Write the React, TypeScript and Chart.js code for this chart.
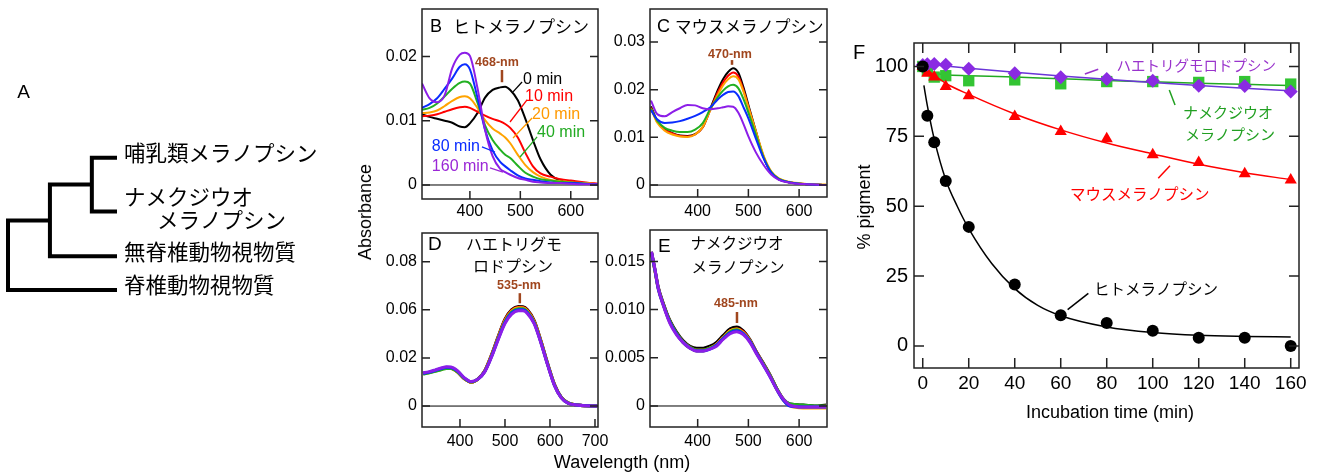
import React, { useEffect, useRef } from "react";
import { Chart, registerables } from "chart.js";

Chart.register(...registerables);

const LAT_FAMILY = "'Liberation Sans', Arial, sans-serif";
const LAT = (px: number, bold = false) => `${bold ? "bold " : ""}${px}px ${LAT_FAMILY}`;
const JP = (px: number) => `${px}px 'Noto Sans CJK JP', 'Noto Sans', sans-serif`;

// ---------------- Panel A : cladogram ----------------
const TREE_LEAF_LABELS: string[][] = [["哺乳類メラノプシン"], ["ナメクジウオ", "メラノプシン"], ["無脊椎動物視物質"], ["脊椎動物視物質"]];
const TREE_LEAF_ROWS = [0, 1.2, 2.2, 2.95];
const TREE_LEAF_DEPTH = 2.6;
// internal nodes: child A, child B, node depth
const TREE_NODES: [string, string, number][] = [["L0", "L1", 2], ["N0", "L2", 1], ["N1", "L3", 0]];

// ---------------- Spectra ----------------
const TIME_LABELS = ["0 min", "10 min", "20 min", "40 min", "80 min", "160 min"];
const SERIES_COLORS = ["#000000", "#ff0000", "#ffa300", "#22b022", "#0a2cff", "#8c1ee8"];
const LABEL_COLORS = ["#000000", "#ff0000", "#ff9900", "#22aa22", "#0a2cff", "#9a27d6"];
const BROWN = "#a0461e";

// B: human melanopsin
const B_NM = [305, 320, 335, 350, 365, 380, 390, 400, 415, 430, 445, 460, 470, 480, 495, 510, 525, 540, 560, 580, 600, 630, 655];
const B_T0 = [0.0110, 0.0106, 0.0103, 0.0100, 0.0097, 0.0091, 0.0090, 0.0096, 0.0112, 0.0136, 0.0148, 0.0152, 0.0153, 0.0148, 0.0132, 0.0103, 0.0070, 0.0040, 0.0016, 0.0007, 0.0004, 0.0002, 0.0001];
const B_T10 = [0.0107, 0.0108, 0.0110, 0.0114, 0.0118, 0.0121, 0.0122, 0.0120, 0.0114, 0.0108, 0.0103, 0.0099, 0.0095, 0.0089, 0.0074, 0.0050, 0.0029, 0.0018, 0.0013, 0.0009, 0.0007, 0.0004, 0.0002];
const B_T20 = [0.0112, 0.0113, 0.0116, 0.0123, 0.0131, 0.0137, 0.0138, 0.0135, 0.0120, 0.0101, 0.0088, 0.0080, 0.0074, 0.0065, 0.0047, 0.0031, 0.0020, 0.0013, 0.0008, 0.0006, 0.0004, 0.0003, 0.0001];
const B_T40 = [0.0117, 0.0120, 0.0127, 0.0138, 0.0150, 0.0159, 0.0161, 0.0158, 0.0128, 0.0093, 0.0070, 0.0055, 0.0047, 0.0042, 0.0030, 0.0019, 0.0013, 0.0009, 0.0007, 0.0005, 0.0004, 0.0002, 0.0001];
const B_T80 = [0.0120, 0.0126, 0.0135, 0.0150, 0.0166, 0.0184, 0.0188, 0.0180, 0.0136, 0.0086, 0.0054, 0.0036, 0.0029, 0.0023, 0.0015, 0.0010, 0.0008, 0.0006, 0.0004, 0.0003, 0.0003, 0.0002, 0.0001];
const B_T160 = [0.0158, 0.0135, 0.0129, 0.0140, 0.0182, 0.0203, 0.0206, 0.0201, 0.0151, 0.0086, 0.0045, 0.0025, 0.0020, 0.0016, 0.0011, 0.0008, 0.0005, 0.0004, 0.0003, 0.0003, 0.0002, 0.0001, 0.0001];

// C: mouse melanopsin
const C_NM = [308, 320, 335, 350, 365, 380, 395, 410, 425, 440, 450, 460, 470, 480, 490, 500, 515, 530, 545, 560, 580, 610, 653];
const C_T0 = [0.0165, 0.0135, 0.0117, 0.0109, 0.0104, 0.0103, 0.0107, 0.0121, 0.0160, 0.0200, 0.0222, 0.0237, 0.0245, 0.0236, 0.0206, 0.0168, 0.0112, 0.0059, 0.0026, 0.0012, 0.0006, 0.0002, 0.0000];
const C_T10 = [0.0162, 0.0133, 0.0116, 0.0108, 0.0103, 0.0102, 0.0106, 0.0121, 0.0158, 0.0195, 0.0215, 0.0229, 0.0236, 0.0228, 0.0200, 0.0164, 0.0110, 0.0059, 0.0027, 0.0013, 0.0006, 0.0002, 0.0000];
const C_T20 = [0.0160, 0.0131, 0.0114, 0.0106, 0.0102, 0.0101, 0.0106, 0.0122, 0.0157, 0.0190, 0.0209, 0.0222, 0.0228, 0.0222, 0.0197, 0.0163, 0.0112, 0.0062, 0.0029, 0.0014, 0.0007, 0.0003, 0.0001];
const C_T40 = [0.0160, 0.0135, 0.0120, 0.0114, 0.0111, 0.0111, 0.0116, 0.0130, 0.0160, 0.0185, 0.0198, 0.0207, 0.0210, 0.0203, 0.0181, 0.0152, 0.0105, 0.0058, 0.0027, 0.0013, 0.0006, 0.0002, 0.0000];
const C_T80 = [0.0157, 0.0138, 0.0130, 0.0131, 0.0134, 0.0139, 0.0145, 0.0153, 0.0163, 0.0180, 0.0189, 0.0195, 0.0196, 0.0187, 0.0164, 0.0140, 0.0097, 0.0056, 0.0026, 0.0012, 0.0006, 0.0002, 0.0000];
const C_T160 = [0.0177, 0.0149, 0.0144, 0.0153, 0.0161, 0.0168, 0.0167, 0.0161, 0.0159, 0.0161, 0.0163, 0.0165, 0.0164, 0.0152, 0.0129, 0.0102, 0.0068, 0.0042, 0.0022, 0.0011, 0.0005, 0.0002, 0.0000];

// D: jumping spider rhodopsin (values in the drawn tick units)
const D_NM = [318, 330, 345, 360, 370, 380, 395, 410, 425, 440, 455, 470, 485, 500, 515, 530, 540, 550, 565, 580, 595, 610, 625, 640, 660, 680, 705];
const D_T0 = [0.0136, 0.0140, 0.0147, 0.0155, 0.0158, 0.0157, 0.0141, 0.0113, 0.0099, 0.0113, 0.0147, 0.0213, 0.0290, 0.0361, 0.0401, 0.0414, 0.0413, 0.0400, 0.0355, 0.0271, 0.0176, 0.0090, 0.0037, 0.0013, 0.0004, 0.0001, 0.0000];
const D_T10 = [0.0135, 0.0139, 0.0146, 0.0154, 0.0158, 0.0157, 0.0141, 0.0113, 0.0099, 0.0112, 0.0146, 0.0211, 0.0287, 0.0358, 0.0398, 0.0411, 0.0410, 0.0397, 0.0352, 0.0269, 0.0174, 0.0089, 0.0036, 0.0013, 0.0004, 0.0001, 0.0000];
const D_T20 = [0.0134, 0.0138, 0.0145, 0.0153, 0.0157, 0.0156, 0.0140, 0.0113, 0.0099, 0.0112, 0.0145, 0.0209, 0.0285, 0.0355, 0.0395, 0.0408, 0.0407, 0.0394, 0.0350, 0.0267, 0.0173, 0.0088, 0.0036, 0.0013, 0.0004, 0.0001, 0.0000];
const D_T40 = [0.0133, 0.0137, 0.0144, 0.0152, 0.0156, 0.0156, 0.0141, 0.0114, 0.0100, 0.0112, 0.0144, 0.0207, 0.0282, 0.0351, 0.0391, 0.0404, 0.0404, 0.0391, 0.0347, 0.0265, 0.0172, 0.0087, 0.0035, 0.0013, 0.0004, 0.0001, 0.0000];
const D_T80 = [0.0136, 0.0140, 0.0148, 0.0157, 0.0161, 0.0160, 0.0144, 0.0116, 0.0101, 0.0112, 0.0143, 0.0205, 0.0279, 0.0347, 0.0387, 0.0400, 0.0400, 0.0388, 0.0344, 0.0263, 0.0170, 0.0086, 0.0035, 0.0012, 0.0004, 0.0001, 0.0000];
const D_T160 = [0.0138, 0.0142, 0.0150, 0.0159, 0.0163, 0.0162, 0.0146, 0.0117, 0.0102, 0.0112, 0.0142, 0.0203, 0.0276, 0.0343, 0.0382, 0.0396, 0.0396, 0.0384, 0.0341, 0.0261, 0.0169, 0.0085, 0.0034, 0.0012, 0.0004, 0.0001, 0.0000];

// E: amphioxus melanopsin
const E_NM = [309, 316, 322, 332, 345, 358, 371, 385, 398, 411, 424, 437, 450, 464, 477, 490, 503, 516, 530, 543, 556, 569, 582, 608, 630, 653];
const E_T0 = [0.0160, 0.0141, 0.0124, 0.0107, 0.0089, 0.0077, 0.0068, 0.0062, 0.0060, 0.0060, 0.0062, 0.0066, 0.0073, 0.0080, 0.0082, 0.0078, 0.0069, 0.0056, 0.0044, 0.0032, 0.0018, 0.0007, 0.0002, 0.0001, 0.0000, 0.0001];
const E_T10 = [0.0159, 0.0140, 0.0123, 0.0106, 0.0088, 0.0076, 0.0067, 0.0061, 0.0058, 0.0058, 0.0060, 0.0064, 0.0071, 0.0078, 0.0080, 0.0077, 0.0068, 0.0056, 0.0043, 0.0031, 0.0018, 0.0007, 0.0001, 0.0000, -0.0001, 0.0000];
const E_T20 = [0.0158, 0.0139, 0.0122, 0.0105, 0.0087, 0.0075, 0.0066, 0.0060, 0.0057, 0.0057, 0.0060, 0.0064, 0.0071, 0.0078, 0.0080, 0.0076, 0.0068, 0.0055, 0.0043, 0.0031, 0.0017, 0.0006, 0.0000, -0.0002, -0.0002, -0.0002];
const E_T40 = [0.0158, 0.0140, 0.0123, 0.0106, 0.0088, 0.0076, 0.0067, 0.0061, 0.0058, 0.0058, 0.0060, 0.0063, 0.0070, 0.0077, 0.0079, 0.0075, 0.0067, 0.0055, 0.0043, 0.0031, 0.0018, 0.0007, 0.0002, 0.0001, 0.0000, 0.0000];
const E_T80 = [0.0159, 0.0140, 0.0122, 0.0105, 0.0087, 0.0075, 0.0066, 0.0060, 0.0057, 0.0057, 0.0059, 0.0063, 0.0070, 0.0076, 0.0078, 0.0075, 0.0067, 0.0055, 0.0042, 0.0030, 0.0017, 0.0006, 0.0000, -0.0001, -0.0001, -0.0001];
const E_T160 = [0.0160, 0.0141, 0.0123, 0.0105, 0.0086, 0.0074, 0.0066, 0.0060, 0.0057, 0.0057, 0.0059, 0.0062, 0.0069, 0.0075, 0.0077, 0.0074, 0.0066, 0.0054, 0.0042, 0.0030, 0.0017, 0.0007, 0.0001, -0.0001, -0.0001, -0.0001];

const BCE_X_TICKS = [400, 500, 600];
const BCE_X_LABELS = ["400", "500", "600"];
const D_X_TICKS = [400, 500, 600, 700];
const D_X_LABELS = ["400", "500", "600", "700"];
const B_Y_TICKS = [0, 0.01, 0.02];
const B_Y_LABELS = ["0", "0.01", "0.02"];
const C_Y_TICKS = [0, 0.01, 0.02, 0.03];
const C_Y_LABELS = ["0", "0.01", "0.02", "0.03"];
const D_Y_TICKS = [0, 0.02, 0.04, 0.06];
const D_Y_LABELS = ["0", "0.02", "0.06", "0.08"];
const E_Y_TICKS = [0, 0.005, 0.01, 0.015];
const E_Y_LABELS = ["0", "0.005", "0.010", "0.015"];

// ---------------- Panel F ----------------
const F_TIME = [0, 2, 5, 10, 20, 40, 60, 80, 100, 120, 140, 160];
const F_HUMAN = [100, 82.4, 72.9, 59.0, 42.6, 22.0, 11.0, 8.2, 5.4, 2.9, 2.9, 0];
const F_MOUSE = [100, 97.6, 96.2, 92.8, 89.5, 82.1, 76.7, 74.1, 68.4, 65.6, 61.6, 59.4];
const F_AMPHIOXUS = [100, 98.6, 96.2, 96.7, 94.9, 95.2, 93.8, 94.6, 94.6, 94.3, 94.6, 93.7];
const F_SPIDER = [100.5, 100.8, 100.9, 100.6, 99.2, 97.6, 96.1, 95.5, 94.9, 93.1, 93.0, 91.0];
const FIT_HUMAN_T = [0.5, 2, 5, 10, 15, 20, 30, 40, 50, 60, 80, 100, 120, 140, 160];
const FIT_HUMAN = [93.2, 86.0, 74.0, 59.5, 50.0, 42.0, 29.5, 20.5, 14.5, 10.8, 6.8, 4.8, 3.8, 3.4, 3.2];
const FIT_T = [0, 10, 20, 40, 60, 80, 100, 120, 140, 160];
const FIT_MOUSE = [100, 94.0, 90.0, 83.0, 77.3, 72.6, 68.7, 65.0, 62.0, 59.5];
const FIT_AMPHIOXUS = [98.5, 97.0, 96.7, 96.2, 95.6, 95.0, 94.5, 94.0, 93.6, 93.2];
const FIT_SPIDER = [101.0, 100.2, 99.4, 97.9, 96.6, 95.4, 94.3, 93.2, 92.2, 91.3];
const F_X_TICKS = [0, 20, 40, 60, 80, 100, 120, 140, 160];
const F_X_LABELS = ["0", "20", "40", "60", "80", "100", "120", "140", "160"];
const F_Y_TICKS = [0, 25, 50, 75, 100];
const F_Y_LABELS = ["0", "25", "50", "75", "100"];

// ---------------- helpers ----------------
type Space = "data" | "area";
interface TextItem { text: string; x: number; y: number; space: Space; font: string; color?: string; align?: CanvasTextAlign; rotate?: number; dx?: number; dy?: number }
interface SegItem { x1: number; y1: number; x2: number; y2: number; space: Space; color: string; width: number }
interface Deco { box: boolean; boxWidth?: number; tickLen?: number; tickSides?: string[]; zeroLine?: boolean; texts: TextItem[]; segs: SegItem[] }

function decoPlugin(cfg: Deco) {
  return {
    id: "deco",
    beforeDatasetsDraw(chart: any) {
      if (!cfg.zeroLine) return;
      const { ctx, chartArea: ca, scales } = chart;
      const y = scales.y.getPixelForValue(0);
      ctx.save();
      ctx.strokeStyle = "#000";
      ctx.lineWidth = 1;
      ctx.beginPath();
      ctx.moveTo(ca.left, y);
      ctx.lineTo(ca.right, y);
      ctx.stroke();
      ctx.restore();
    },
    afterDraw(chart: any) {
      const { ctx, chartArea: ca, scales } = chart;
      const P = (space: Space, x: number, y: number) =>
        space === "data" ? [scales.x.getPixelForValue(x), scales.y.getPixelForValue(y)] : [ca.left + x, ca.top + y];
      ctx.save();
      if (cfg.box) {
        ctx.strokeStyle = "#222";
        ctx.lineWidth = cfg.boxWidth ?? 1.5;
        ctx.strokeRect(ca.left, ca.top, ca.right - ca.left, ca.bottom - ca.top);
        const L = cfg.tickLen ?? 8;
        const sides = cfg.tickSides ?? [];
        ctx.beginPath();
        for (const t of scales.y.ticks) {
          const py = scales.y.getPixelForValue(t.value);
          if (sides.includes("left")) { ctx.moveTo(ca.left, py); ctx.lineTo(ca.left + L, py); }
          if (sides.includes("right")) { ctx.moveTo(ca.right - L, py); ctx.lineTo(ca.right, py); }
        }
        for (const t of scales.x.ticks) {
          const px = scales.x.getPixelForValue(t.value);
          if (sides.includes("bottom")) { ctx.moveTo(px, ca.bottom); ctx.lineTo(px, ca.bottom - L); }
          if (sides.includes("top")) { ctx.moveTo(px, ca.top); ctx.lineTo(px, ca.top + L); }
        }
        ctx.stroke();
      }
      for (const s of cfg.segs) {
        const [x1, y1] = P(s.space, s.x1, s.y1);
        const [x2, y2] = P(s.space, s.x2, s.y2);
        ctx.strokeStyle = s.color;
        ctx.lineWidth = s.width;
        ctx.beginPath();
        ctx.moveTo(x1, y1);
        ctx.lineTo(x2, y2);
        ctx.stroke();
      }
      for (const t of cfg.texts) {
        const [x, y] = P(t.space, t.x, t.y);
        ctx.save();
        ctx.font = t.font;
        ctx.fillStyle = t.color ?? "#000";
        ctx.textAlign = t.align ?? "left";
        ctx.textBaseline = "middle";
        ctx.translate(x + (t.dx ?? 0), y + (t.dy ?? 0));
        if (t.rotate) ctx.rotate((t.rotate * Math.PI) / 180);
        ctx.fillText(t.text, 0, 0);
        ctx.restore();
      }
      ctx.restore();
    },
  };
}

function axis(axisId: "x" | "y", min: number, max: number, ticks: number[], labels: string[], fontSize: number, pad: number, fixed: number) {
  return {
    type: "linear",
    min,
    max,
    grid: { display: false, drawTicks: false },
    border: { display: false },
    afterBuildTicks: (s: any) => { s.ticks = ticks.map((v) => ({ value: v })); },
    afterFit: (s: any) => {
      if (axisId === "x") { s.height = fixed; s.paddingLeft = 0; s.paddingRight = 0; }
      else { s.width = fixed; s.paddingTop = 0; s.paddingBottom = 0; }
    },
    ticks: {
      autoSkip: false, maxRotation: 0, minRotation: 0, padding: pad, color: "#000",
      font: { family: LAT_FAMILY, size: fontSize },
      callback: (_v: any, i: number) => labels[i],
    },
  };
}

interface Box { left: number; top: number; width: number; height: number }

function ChartCanvas({ box, make }: { box: Box; make: (c: HTMLCanvasElement) => Chart }) {
  const ref = useRef<HTMLCanvasElement>(null);
  useEffect(() => {
    const ch = make(ref.current as HTMLCanvasElement);
    return () => ch.destroy();
  }, []);
  return (
    <canvas ref={ref} width={box.width} height={box.height}
      style={{ position: "absolute", left: box.left, top: box.top, width: box.width, height: box.height }} />
  );
}

// ---------------- panel A ----------------
function makeTree(canvas: HTMLCanvasElement) {
  const pos: Record<string, { x: number; y: number }> = {};
  TREE_LEAF_ROWS.forEach((r, i) => { pos["L" + i] = { x: TREE_LEAF_DEPTH, y: r }; });
  const paths: { x: number; y: number }[][] = [];
  TREE_NODES.forEach(([a, b, d], i) => {
    const pa = pos[a], pb = pos[b];
    paths.push([{ x: pa.x, y: pa.y }, { x: d, y: pa.y }, { x: d, y: pb.y }, { x: pb.x, y: pb.y }]);
    pos["N" + i] = { x: d, y: (pa.y + pb.y) / 2 };
  });
  const texts: TextItem[] = [{ text: "A", x: 15.5, y: -64.7, space: "area", font: LAT(19), align: "center" }];
  TREE_LEAF_LABELS.forEach((lines, i) => {
    if (lines.length === 1) {
      texts.push({ text: lines[0], x: TREE_LEAF_DEPTH, y: TREE_LEAF_ROWS[i], space: "data", font: JP(21.5), dx: 7, dy: -5 });
    } else {
      texts.push({ text: lines[0], x: TREE_LEAF_DEPTH, y: TREE_LEAF_ROWS[i], space: "data", font: JP(21.5), dx: 7, dy: -15 });
      texts.push({ text: lines[1], x: TREE_LEAF_DEPTH, y: TREE_LEAF_ROWS[i], space: "data", font: JP(21.5), dx: 40, dy: 8 });
    }
  });
  return new Chart(canvas, {
    type: "line",
    data: {
      datasets: paths.map((p) => ({
        data: p, borderColor: "#000", borderWidth: 4, pointRadius: 0, tension: 0,
        borderJoinStyle: "miter", borderCapStyle: "butt", clip: false, fill: false,
      })),
    } as any,
    options: {
      animation: false, responsive: false, devicePixelRatio: 1,
      layout: { padding: { left: 8, right: 213, top: 157.7, bottom: 185 } },
      plugins: { legend: { display: false }, tooltip: { enabled: false } },
      scales: {
        x: { type: "linear", display: false, min: 0, max: TREE_LEAF_DEPTH },
        y: { type: "linear", display: false, min: 0, max: 2.95, reverse: true },
      },
    } as any,
    plugins: [decoPlugin({ box: false, texts, segs: [] })],
  });
}

// ---------------- spectra ----------------
interface SpecSpec {
  box: Box; padTop: number; padRight: number; ml: number; mb: number;
  xMin: number; xMax: number; yMin: number; yMax: number;
  nm: number[]; series: number[][]; lineWidth: number;
  xTicks: number[]; xLabels: string[]; yTicks: number[]; yLabels: string[];
  xPad: number; deco: Deco;
}

function makeSpectrum(spec: SpecSpec) {
  return (canvas: HTMLCanvasElement) =>
    new Chart(canvas, {
      type: "line",
      data: {
        datasets: spec.series.map((vals, i) => ({
          label: TIME_LABELS[i],
          data: spec.nm.map((x, j) => ({ x, y: vals[j] })),
          borderColor: SERIES_COLORS[i],
          borderWidth: spec.lineWidth,
          pointRadius: 0,
          cubicInterpolationMode: "monotone",
          fill: false,
          order: spec.series.length - i,
        })),
      } as any,
      options: {
        animation: false, responsive: false, devicePixelRatio: 1,
        layout: { padding: { left: 0, top: spec.padTop, right: spec.padRight, bottom: 0 } },
        plugins: { legend: { display: false }, tooltip: { enabled: false } },
        scales: {
          x: axis("x", spec.xMin, spec.xMax, spec.xTicks, spec.xLabels, 16, spec.xPad, spec.mb),
          y: axis("y", spec.yMin, spec.yMax, spec.yTicks, spec.yLabels, 16, 5, spec.ml),
        },
      } as any,
      plugins: [decoPlugin(spec.deco)],
    });
}

const TICK_SIDES_S = ["left", "right", "bottom"];

const SPEC_B: SpecSpec = {
  box: { left: 372, top: 0, width: 236, height: 225 }, padTop: 9, padRight: 10, ml: 50, mb: 26,
  xMin: 305, xMax: 654, yMin: -0.00218, yMax: 0.0274,
  nm: B_NM, series: [B_T0, B_T10, B_T20, B_T40, B_T80, B_T160], lineWidth: 2,
  xTicks: BCE_X_TICKS, xLabels: BCE_X_LABELS, yTicks: B_Y_TICKS, yLabels: B_Y_LABELS, xPad: 3,
  deco: {
    box: true, tickLen: 8, tickSides: TICK_SIDES_S, zeroLine: true,
    texts: [
      { text: "B", x: 8, y: 18, space: "area", font: LAT(18) },
      { text: "ヒトメラノプシン", x: 31, y: 18, space: "area", font: JP(17) },
      { text: "468-nm", x: 453.7, y: 0.0190, space: "data", font: LAT(12.5, true), color: BROWN, align: "center" },
      { text: TIME_LABELS[0], x: 505.4, y: 0.01636, space: "data", font: LAT(16), color: LABEL_COLORS[0] },
      { text: TIME_LABELS[1], x: 509.3, y: 0.01371, space: "data", font: LAT(16), color: LABEL_COLORS[1] },
      { text: TIME_LABELS[2], x: 523.3, y: 0.0109, space: "data", font: LAT(16), color: LABEL_COLORS[2] },
      { text: TIME_LABELS[3], x: 533.2, y: 0.0081, space: "data", font: LAT(16), color: LABEL_COLORS[3] },
      { text: TIME_LABELS[4], x: 324.5, y: 0.00592, space: "data", font: LAT(16), color: LABEL_COLORS[4] },
      { text: TIME_LABELS[5], x: 324.5, y: 0.0028, space: "data", font: LAT(16), color: LABEL_COLORS[5] },
    ],
    segs: [
      { x1: 463.6, y1: 0.0179, x2: 463.6, y2: 0.0160, space: "data", color: BROWN, width: 2.5 },
      { x1: 485.5, y1: 0.01449, x2: 503.4, y2: 0.01604, space: "data", color: LABEL_COLORS[0], width: 1.3 },
      { x1: 479.5, y1: 0.00981, x2: 513.3, y2: 0.01324, space: "data", color: LABEL_COLORS[1], width: 1.3 },
      { x1: 485.5, y1: 0.00732, x2: 523.3, y2: 0.01044, space: "data", color: LABEL_COLORS[2], width: 1.3 },
      { x1: 499.4, y1: 0.00436, x2: 533.2, y2: 0.00748, space: "data", color: LABEL_COLORS[3], width: 1.3 },
      { x1: 423.9, y1: 0.00592, x2: 449.7, y2: 0.00514, space: "data", color: LABEL_COLORS[4], width: 1.3 },
      { x1: 439.8, y1: 0.00265, x2: 465.6, y2: 0.00202, space: "data", color: LABEL_COLORS[5], width: 1.3 },
    ],
  },
};

const SPEC_C: SpecSpec = {
  box: { left: 605, top: 0, width: 232, height: 225 }, padTop: 9, padRight: 10, ml: 45, mb: 28,
  xMin: 306, xMax: 655, yMin: -0.0025, yMax: 0.0369,
  nm: C_NM, series: [C_T0, C_T10, C_T20, C_T40, C_T80, C_T160], lineWidth: 2,
  xTicks: BCE_X_TICKS, xLabels: BCE_X_LABELS, yTicks: C_Y_TICKS, yLabels: C_Y_LABELS, xPad: 5,
  deco: {
    box: true, tickLen: 8, tickSides: TICK_SIDES_S, zeroLine: true,
    texts: [
      { text: "C", x: 7, y: 18, space: "area", font: LAT(18) },
      { text: "マウスメラノプシン", x: 25, y: 18, space: "area", font: JP(16.5) },
      { text: "470-nm", x: 463.7, y: 0.02725, space: "data", font: LAT(12.5, true), color: BROWN, align: "center" },
    ],
    segs: [{ x1: 467.7, y1: 0.0262, x2: 467.7, y2: 0.0252, space: "data", color: BROWN, width: 2.5 }],
  },
};

const SPEC_D: SpecSpec = {
  box: { left: 372, top: 225, width: 246, height: 232 }, padTop: 8, padRight: 20, ml: 50, mb: 30,
  xMin: 315.6, xMax: 706.7, yMin: -0.0087, yMax: 0.0719,
  nm: D_NM, series: [D_T0, D_T10, D_T20, D_T40, D_T80, D_T160], lineWidth: 3,
  xTicks: D_X_TICKS, xLabels: D_X_LABELS, yTicks: D_Y_TICKS, yLabels: D_Y_LABELS, xPad: 5,
  deco: {
    box: true, tickLen: 8, tickSides: TICK_SIDES_S, zeroLine: true,
    texts: [
      { text: "D", x: 6, y: 12, space: "area", font: LAT(19) },
      { text: "ハエトリグモ", x: 92, y: 10.5, space: "area", font: JP(16), align: "center" },
      { text: "ロドプシン", x: 91, y: 32.7, space: "area", font: JP(16), align: "center" },
      { text: "535-nm", x: 531, y: 0.0502, space: "data", font: LAT(12.5, true), color: BROWN, align: "center" },
    ],
    segs: [{ x1: 533, y1: 0.0469, x2: 533, y2: 0.0427, space: "data", color: BROWN, width: 2.5 }],
  },
};

const SPEC_E: SpecSpec = {
  box: { left: 605, top: 225, width: 232, height: 232 }, padTop: 5, padRight: 10, ml: 45, mb: 30,
  xMin: 306, xMax: 655, yMin: -0.00218, yMax: 0.01826,
  nm: E_NM, series: [E_T0, E_T10, E_T20, E_T40, E_T80, E_T160], lineWidth: 3,
  xTicks: BCE_X_TICKS, xLabels: BCE_X_LABELS, yTicks: E_Y_TICKS, yLabels: E_Y_LABELS, xPad: 5,
  deco: {
    box: true, tickLen: 8, tickSides: TICK_SIDES_S, zeroLine: true,
    texts: [
      { text: "E", x: 8, y: 17, space: "area", font: LAT(19) },
      { text: "ナメクジウオ", x: 87, y: 13, space: "area", font: JP(15.5), align: "center" },
      { text: "メラノプシン", x: 88, y: 36.7, space: "area", font: JP(15.5), align: "center" },
      { text: "485-nm", x: 475.5, y: 0.01068, space: "data", font: LAT(12.5, true), color: BROWN, align: "center" },
    ],
    segs: [{ x1: 477.5, y1: 0.00975, x2: 477.5, y2: 0.00861, space: "data", color: BROWN, width: 2.5 }],
  },
};

// ---------------- panel F ----------------
const F_BOX: Box = { left: 834, top: 0, width: 486, height: 475 };
const C_SPIDER = "#8a2be2";
const C_AMPH = "#33c433";
const C_MOUSE = "#ff0000";

function makeF(canvas: HTMLCanvasElement) {
  const pts = (ys: number[]) => F_TIME.map((x, i) => ({ x, y: ys[i] }));
  const fit = (ts: number[], ys: number[]) => ts.map((x, i) => ({ x, y: ys[i] }));
  const scatter = (label: string, data: any, color: string, style: string, r: number, order: number) => ({
    label, data, showLine: false, pointStyle: style, pointRadius: r, pointBackgroundColor: color,
    pointBorderColor: color, pointBorderWidth: 0, borderColor: color, clip: false, order,
  });
  const line = (label: string, data: any, color: string, order: number) => ({
    label, data, borderColor: color, borderWidth: 1.5, pointRadius: 0, cubicInterpolationMode: "monotone",
    fill: false, clip: false, order,
  });
  return new Chart(canvas, {
    type: "line",
    data: {
      datasets: [
        scatter("ヒトメラノプシン", pts(F_HUMAN), "#000", "circle", 6, 0),
        line("ヒトメラノプシン fit", fit(FIT_HUMAN_T, FIT_HUMAN), "#000", 7),
        scatter("ハエトリグモロドプシン", pts(F_SPIDER), C_SPIDER, "rectRot", 7, 1),
        line("ハエトリグモロドプシン fit", fit(FIT_T, FIT_SPIDER), "#6a35d8", 2),
        scatter("マウスメラノプシン", pts(F_MOUSE), C_MOUSE, "triangle", 7, 3),
        line("マウスメラノプシン fit", fit(FIT_T, FIT_MOUSE), C_MOUSE, 4),
        scatter("ナメクジウオメラノプシン", pts(F_AMPHIOXUS), C_AMPH, "rect", 8, 5),
        line("ナメクジウオメラノプシン fit", fit(FIT_T, FIT_AMPHIOXUS), "#22aa22", 6),
      ],
    } as any,
    options: {
      animation: false, responsive: false, devicePixelRatio: 1,
      layout: { padding: { left: 0, top: 43, right: 21, bottom: 0 } },
      plugins: { legend: { display: false }, tooltip: { enabled: false } },
      scales: {
        x: axis("x", -3.8, 163.6, F_X_TICKS, F_X_LABELS, 19, 4, 107),
        y: axis("y", -7.9, 108.4, F_Y_TICKS, F_Y_LABELS, 20, 6, 80),
      },
    } as any,
    plugins: [
      decoPlugin({
        box: true, boxWidth: 1.5, tickLen: 10, tickSides: ["left", "right", "bottom", "top"],
        texts: [
          { text: "F", x: -55, y: 10.5, space: "area", font: LAT(20), align: "center" },
          { text: "% pigment", x: -49, y: 164, space: "area", font: LAT(18), align: "center", rotate: -90 },
          { text: "Incubation time (min)", x: 196, y: 370, space: "area", font: LAT(18), align: "center" },
          { text: "ハエトリグモロドプシン", x: 84.3, y: 100.4, space: "data", font: JP(14.5), color: "#9933cc" },
          { text: "ナメクジウオ", x: 113.2, y: 83.5, space: "data", font: JP(15), color: "#22a022" },
          { text: "メラノプシン", x: 114, y: 75.6, space: "data", font: JP(15), color: "#22a022" },
          { text: "マウスメラノプシン", x: 64.0, y: 54.3, space: "data", font: JP(15.5), color: "#ff0000" },
          { text: "ヒトメラノプシン", x: 74.5, y: 20.3, space: "data", font: JP(15.5), color: "#000" },
        ],
        segs: [
          { x1: 70.5, y1: 97.3, x2: 76.3, y2: 99.0, space: "data", color: "#9933cc", width: 1.5 },
          { x1: 107.2, y1: 91.6, x2: 109.7, y2: 86.2, space: "data", color: "#22a022", width: 1.5 },
          { x1: 102.4, y1: 60.0, x2: 107.5, y2: 64.5, space: "data", color: "#ff0000", width: 1.5 },
          { x1: 63.0, y1: 13.0, x2: 72.0, y2: 18.8, space: "data", color: "#000", width: 1.5 },
        ],
      }),
    ],
  });
}

export default function App() {
  const titleStyle: React.CSSProperties = {
    position: "absolute", font: LAT(18), whiteSpace: "nowrap", lineHeight: 1, color: "#000",
  };
  return (
    <div style={{ position: "absolute", left: 0, top: 0, width: 1320, height: 475, background: "#fff", overflow: "hidden" }}>
      <ChartCanvas box={{ left: 0, top: 0, width: 330, height: 475 }} make={makeTree} />
      <ChartCanvas box={SPEC_B.box} make={makeSpectrum(SPEC_B)} />
      <ChartCanvas box={SPEC_C.box} make={makeSpectrum(SPEC_C)} />
      <ChartCanvas box={SPEC_D.box} make={makeSpectrum(SPEC_D)} />
      <ChartCanvas box={SPEC_E.box} make={makeSpectrum(SPEC_E)} />
      <ChartCanvas box={F_BOX} make={makeF} />
      <div style={{ ...titleStyle, left: 365, top: 212, transform: "translate(-50%, -50%) rotate(-90deg)" }}>Absorbance</div>
      <div style={{ ...titleStyle, left: 622, top: 462, transform: "translate(-50%, -50%)" }}>Wavelength (nm)</div>
    </div>
  );
}
